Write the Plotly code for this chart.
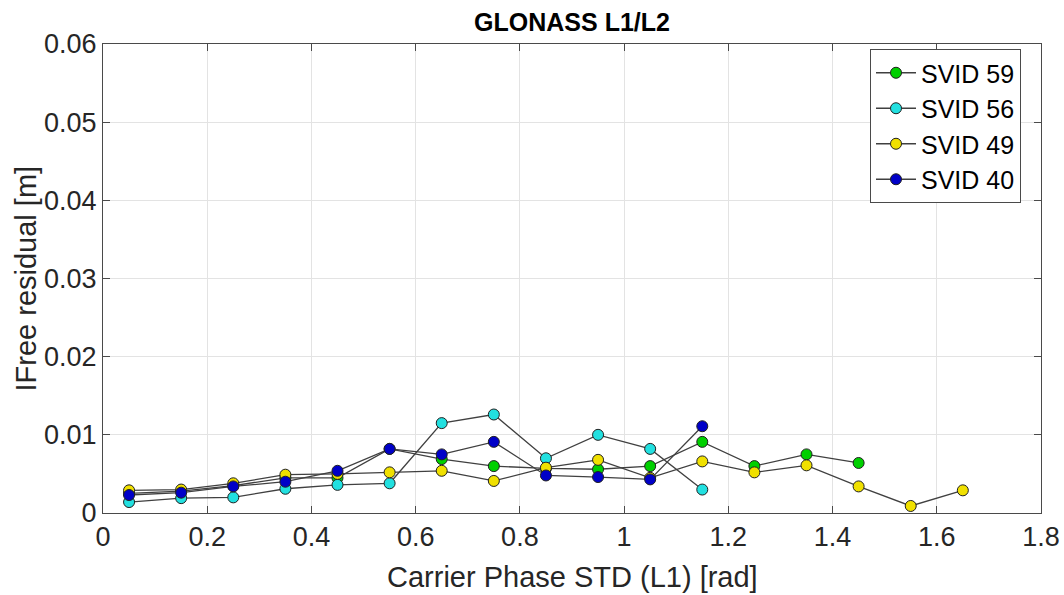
import plotly.graph_objects as go

x_vals = [0.05, 0.15, 0.25, 0.35, 0.45, 0.55, 0.65, 0.75, 0.85, 0.95, 1.05, 1.15, 1.25, 1.35, 1.45, 1.55, 1.65]

svid59 = [0.0025, 0.0028, 0.0035, 0.0045, 0.0045, 0.0082, 0.0069, 0.0060, 0.0057, 0.0056, 0.0060, 0.0091, 0.0060, 0.0075, 0.0064]
svid56 = [0.0014, 0.0019, 0.0020, 0.0031, 0.0036, 0.0038, 0.0115, 0.0126, 0.0070, 0.0100, 0.0082, 0.0030]
svid49 = [0.0029, 0.0030, 0.0038, 0.0049, 0.0050, 0.0052, 0.0054, 0.0041, 0.0058, 0.0068, 0.0045, 0.0066, 0.0052, 0.0061, 0.0034, 0.0009, 0.0029]
svid40 = [0.0023, 0.0026, 0.0034, 0.0040, 0.0054, 0.0082, 0.0075, 0.0091, 0.0048, 0.0046, 0.0043, 0.0111]

series = [
    ("SVID 59", svid59, "#00d000"),
    ("SVID 56", svid56, "#22e0e0"),
    ("SVID 49", svid49, "#f0e000"),
    ("SVID 40", svid40, "#0000c8"),
]

x_ticks = [0, 0.2, 0.4, 0.6, 0.8, 1.0, 1.2, 1.4, 1.6, 1.8]
x_tick_text = ["0", "0.2", "0.4", "0.6", "0.8", "1", "1.2", "1.4", "1.6", "1.8"]
y_ticks = [0, 0.01, 0.02, 0.03, 0.04, 0.05, 0.06]
y_tick_text = ["0", "0.01", "0.02", "0.03", "0.04", "0.05", "0.06"]

W, H = 1064, 595
ML, MT = 103, 44
MR = W - 1041
MB = H - 513
pw = W - ML - MR
ph = H - MT - MB

fig = go.Figure()
for name, vals, col in series:
    fig.add_trace(go.Scatter(
        x=x_vals[:len(vals)], y=vals, name=name, mode="lines+markers",
        line=dict(color="#404040", width=1.3),
        marker=dict(color=col, size=11, line=dict(color="#202020", width=1)),
    ))

font = "Liberation Sans, Arial, sans-serif"
axis_common = dict(
    showgrid=True, gridcolor="#e3e3e3", gridwidth=1,
    showline=True, linecolor="#4a4a4a", linewidth=1, mirror="ticks",
    ticks="inside", ticklen=7, tickcolor="#4a4a4a",
    tickfont=dict(size=27, color="#262626"), zeroline=False, automargin=False,
)
fig.update_layout(
    width=W, height=H,
    margin=dict(l=ML, r=MR, t=MT, b=MB),
    plot_bgcolor="white", paper_bgcolor="white",
    font=dict(family=font, color="#262626"),
    title=dict(text="<b>GLONASS L1/L2</b>", x=0.5, xref="paper", xanchor="center",
               y=1 - 22 / H, yref="container", yanchor="middle", automargin=False,
               font=dict(size=25, color="#000000", family=font)),
    xaxis=dict(range=[0, 1.8], tickvals=x_ticks, ticktext=x_tick_text, **axis_common),
    yaxis=dict(range=[0, 0.06], tickvals=y_ticks, ticktext=y_tick_text, **axis_common),
    legend=dict(x=(1021 - ML) / pw, y=1 - 5 / ph, xanchor="right", yanchor="top",
                bgcolor="white", bordercolor="#4a4a4a", borderwidth=1,
                font=dict(size=25, color="#000000"), itemwidth=40, tracegroupgap=0),
    showlegend=True,
    annotations=[
        dict(text="Carrier Phase STD (L1) [rad]", x=0.5, xref="paper",
             y=-(577 - 513) / ph, yref="paper", yanchor="middle",
             showarrow=False, font=dict(size=29, color="#262626")),
        dict(text="IFree residual [m]", textangle=-90, x=-(ML - 25) / pw, xref="paper",
             xanchor="center", y=0.5, yref="paper", yanchor="middle",
             showarrow=False, font=dict(size=29, color="#262626")),
    ],
)

fig.write_html("out.html", config={"displayModeBar": False},
               post_script="document.body.style.margin='0';document.body.style.overflow='hidden';")
